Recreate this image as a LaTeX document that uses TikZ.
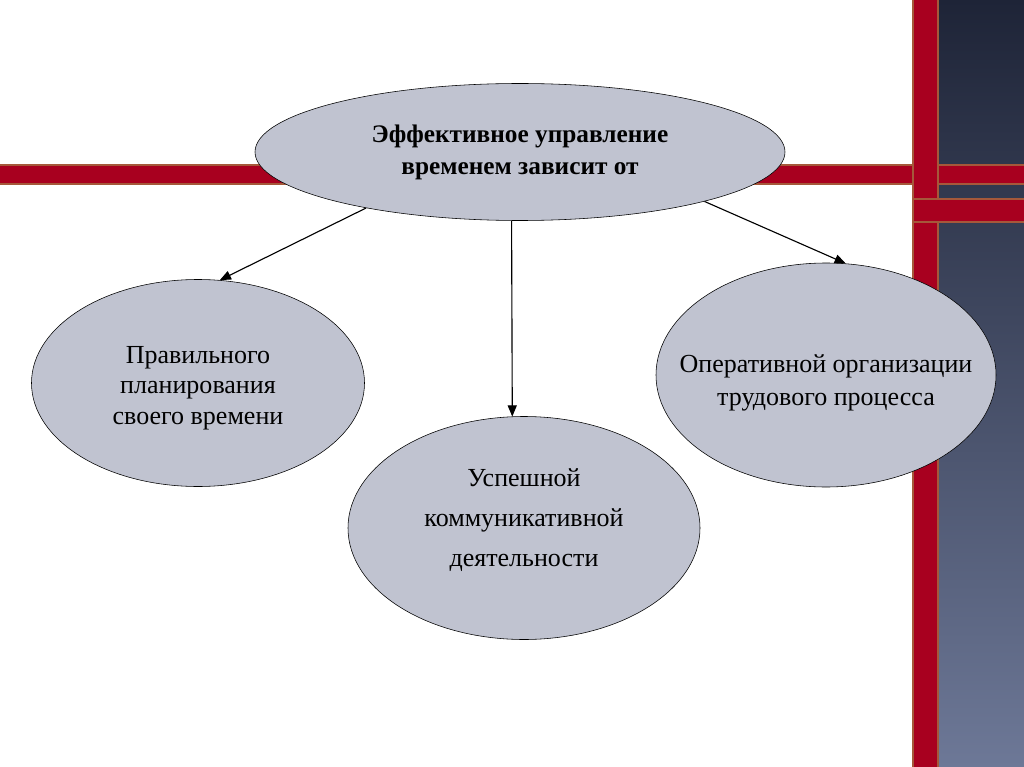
\documentclass[tikz,border=0pt]{standalone}
\usepackage{fontspec}
\setmainfont{Liberation Serif}
\usetikzlibrary{arrows,shapes.geometric}
\definecolor{bandred}{HTML}{A8001F}
\definecolor{bandrim}{HTML}{A5583A}
\definecolor{ovalfill}{HTML}{C0C3D0}
\definecolor{paneltop}{HTML}{1E2437}
\definecolor{panelbot}{HTML}{6D7897}
\tikzstyle{bubble}=[ellipse, draw=black, fill=ovalfill, inner sep=0pt, align=center, font=\fontsize{18.5}{21.5}\selectfont]
\tikzstyle{band}=[fill=bandred, draw=bandrim, line width=1.3pt]
\newcommand{\bubble}{\node[bubble]}

\begin{document}
\begin{tikzpicture}[x=0.025cm, y=-0.025cm
  ,every edge/.style={draw, -triangle 45, line width=0.8pt}
]
\useasboundingbox (0,0) rectangle (1024,767);
\clip (0,0) rectangle (1024,767);
% backdrop
\fill[white] (0,0) rectangle (1024,767);
\shade[top color=paneltop, bottom color=panelbot] (938,0) rectangle (1024,767);
\fill[band] (-5,165) rectangle (1030,184);
\fill[band] (913,-5) rectangle (938,772);
\fill[band] (913,199) rectangle (1030,222);
\fill[bandred] (914.5,166) rectangle (936.5,183);
% ovals
\bubble (top) at (520,152) [minimum width=530*0.025cm, minimum height=137*0.025cm,
  font=\bfseries\fontsize{18}{22.8}\selectfont]
  {Эффективное управление\\временем зависит от};
\bubble (plan) at (198,383) [minimum width=333*0.025cm, minimum height=207*0.025cm]
  {\mbox{}\\[-2pt]Правильного\\планирования\\своего времени};
\bubble (comm) at (524,528) [minimum width=352*0.025cm, minimum height=223*0.025cm,
  font=\fontsize{18.5}{28.5}\selectfont]
  {Успешной\\коммуникативной\\деятельности\\[-14pt]\mbox{}};
\bubble (work) at (826,375) [minimum width=340*0.025cm, minimum height=224*0.025cm,
  inner xsep=-24pt, font=\fontsize{18.5}{23.5}\selectfont]
  {\mbox{}\\[0pt]Оперативной организации\\трудового процесса};
\path
(top.200) edge (plan.78)
(top.263) edge (comm.96)
(top.-15) edge (work.80)
;
\end{tikzpicture}
\end{document}
